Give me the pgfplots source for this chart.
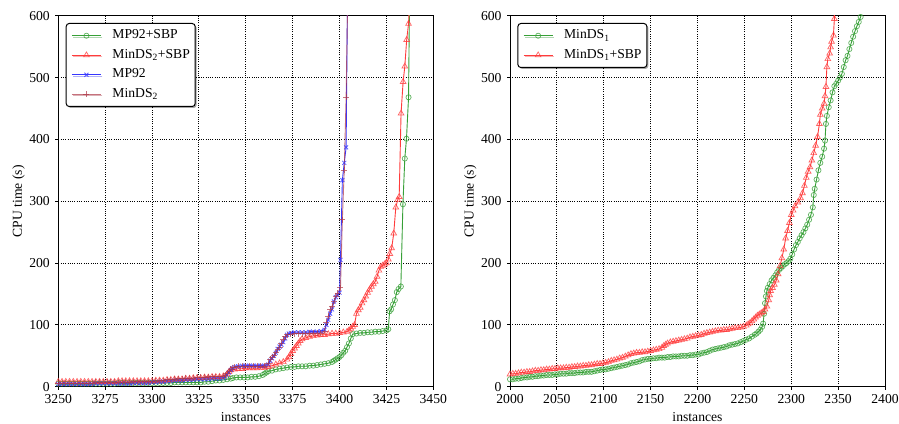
\documentclass[border=0pt]{standalone}
\usepackage{fontspec}
\setmainfont{Liberation Serif}
\usepackage{pgfplots}
\pgfplotsset{compat=1.18}
\usetikzlibrary{shadows}

\definecolor{cgreen}{RGB}{55,160,55}
\definecolor{cred}{RGB}{255,60,60}
\definecolor{cblue}{RGB}{55,55,255}
\definecolor{cbrown}{RGB}{175,55,70}

\newcommand{\fs}{\fontsize{13.7}{16}\selectfont}

\pgfplotsset{
  cpu/.style={
    scale only axis, width=375bp, height=371bp,
    ymin=0, ymax=600, ytick={0,100,...,600},
    grid=major,
    major grid style={black, line width=0.9bp, dash pattern=on 1bp off 1.3bp},
    axis line style={black, line width=1bp},
    tick style={black, line width=0.8bp}, major tick length=3bp, tick align=outside,
    xtick pos=bottom, ytick pos=left,
    /pgf/number format/assume math mode=true,
    /pgf/number format/1000 sep={},
    ticklabel style={font=\fs, inner sep=0pt},
    yticklabel style={xshift=-5.3bp},
    xticklabel style={yshift=-4.6bp},
    xlabel=instances, ylabel={CPU time (s)},
    label style={font=\fs},
    xlabel style={at={(axis description cs:0.5,-0.0938)}, anchor=base},
    ylabel style={at={(axis description cs:-0.0968,0.5)}, anchor=base},
    legend cell align=left,
    legend image code/.code={\draw[mark repeat=2,mark phase=2] plot coordinates {(0bp,0bp)(14.5bp,0bp)(29bp,0bp)};},
    legend style={
      at={(0,1)}, anchor=north west, xshift=7.4bp, yshift=-7.3bp,
      draw=black, line width=1bp, rounded corners=3bp, fill=white,
      drop shadow={shadow xshift=1.5bp, shadow yshift=-1.5bp, fill=black, opacity=0.35},
      inner xsep=5.3bp, inner ysep=5.5bp, row sep=6bp,
      font=\fs,
      nodes={inner sep=0pt, text height=10bp, text depth=3.5bp},
      /tikz/every odd column/.append style={column sep=11bp},
    },
  },
  sg/.style={color=cgreen, line width=0.9bp, mark=o, mark size=2.6bp, mark options={line width=0.7bp, opacity=0.8}},
  sr/.style={color=cred, line width=0.9bp, mark=triangle, mark size=3.3bp, mark options={line width=0.7bp, opacity=0.8}},
  sb/.style={color=cblue, line width=0.9bp, mark=x, mark size=2.8bp, mark options={line width=0.8bp, opacity=0.8}},
  sn/.style={color=cbrown, line width=0.9bp, opacity=0.7, mark=+, mark size=3bp, mark options={line width=0.8bp}},
}

\begin{document}
\begin{tikzpicture}
\useasboundingbox (0,0) rectangle (899bp,424bp);

\begin{axis}[cpu, at={(58.3bp,37.3bp)}, anchor=south west,
  xmin=3250, xmax=3450, xtick={3250,3275,...,3450}]
\addplot[sg] coordinates {(3250,5)(3252,5)(3254,5)(3256,5)(3258,5)(3260,5)(3262,5)(3264,5)(3266,5)(3268,5)(3270,5)(3272,5)(3274,5)(3276,5)(3278,5)(3280,5)(3282,6)(3284,6)(3286,6)(3288,6)(3290,6)(3292,6)(3294,6)(3296,6)(3298,6)(3300,6)(3302,6)(3304,6)(3306,6)(3308,6)(3310,6)(3312,7)(3314,7)(3316,7)(3318,7)(3320,7)(3322,7)(3324,7)(3326,7)(3328,8)(3330,8)(3332,9)(3334,10)(3336,10)(3338,11)(3340,12)(3342,13)(3343,14)(3345,15)(3347,15)(3349,15)(3351,15)(3353,16)(3355,16)(3357,17)(3359,19)(3360,21)(3361,23)(3362,25)(3364,26)(3366,28)(3368,29)(3370,30)(3372,31)(3374,32)(3376,32)(3378,33)(3380,33)(3382,33)(3384,34)(3386,34)(3388,35)(3390,36)(3392,37)(3394,38)(3396,40)(3397,42)(3398,44)(3399,46)(3400,48)(3401,51)(3402,55)(3403,58)(3404,64)(3405,70)(3406,78)(3407,85)(3409,86)(3411,87)(3413,87)(3415,88)(3417,88)(3419,89)(3421,89)(3423,90)(3425,91)(3426,93)(3426.7,122)(3427.5,125)(3428.5,133)(3429.5,140)(3430.5,153)(3431.5,158)(3432.7,162)(3433.8,295)(3434.8,369)(3435.7,401)(3436.8,468)(3437.3,620)};
\addlegendentry{MP92+SBP}
\addplot[sr] coordinates {(3250,8)(3252,8)(3254,8)(3256,8)(3258,8)(3260,8)(3262,8)(3264,8)(3266,8)(3268,8)(3270,8)(3272,8)(3274,8)(3276,8)(3278,8)(3280,8)(3282,9)(3284,9)(3286,9)(3288,9)(3290,9)(3292,9)(3294,9)(3296,9)(3298,9)(3300,9)(3302,10)(3304,10)(3306,10)(3308,11)(3310,11)(3312,12)(3314,12)(3316,12)(3318,13)(3320,13)(3322,14)(3324,14)(3326,14)(3328,15)(3330,15)(3332,16)(3334,16)(3336,16)(3338,17)(3340,20)(3341,24)(3342,27)(3344,28)(3346,29)(3348,29)(3350,30)(3352,30)(3354,30)(3356,30)(3358,31)(3360,31)(3362,32)(3364,34)(3366,36)(3368,38)(3370,40)(3372,44)(3373,48)(3374,53)(3375,58)(3376,62)(3377,66)(3378,70)(3379,74)(3380,77)(3382,79)(3384,81)(3386,82)(3388,83)(3390,84)(3392,84)(3394,85)(3396,86)(3398,86)(3400,87)(3402,88)(3404,89)(3405,91)(3406,94)(3407,97)(3408,100)(3409,118)(3410,124)(3411,128)(3412,135)(3413,140)(3414,146)(3415,152)(3416,157)(3417,162)(3418,166)(3419,170)(3420,178)(3421,188)(3422,194)(3423,196)(3424,198)(3425,200)(3426,206)(3426.8,215)(3427.8,224)(3428.9,248)(3430,290)(3431,302)(3431.8,307)(3432.8,442)(3433.9,493)(3434.8,518)(3435.8,561)(3436.8,587)(3437.3,620)};
\addlegendentry{MinDS\textsubscript{2}+SBP}
\addplot[sb] coordinates {(3250,4)(3252,4)(3254,4)(3256,4)(3258,4)(3260,4)(3262,4)(3264,4)(3266,4)(3268,4)(3270,5)(3272,5)(3274,5)(3276,5)(3278,5)(3280,5)(3282,5)(3284,5)(3286,5)(3288,5)(3290,6)(3292,6)(3294,6)(3296,6)(3298,6)(3300,7)(3302,7)(3304,8)(3306,8)(3308,9)(3310,9)(3312,10)(3314,10)(3316,10)(3318,11)(3320,11)(3322,11)(3324,12)(3326,12)(3328,12)(3330,12)(3332,13)(3334,13)(3336,13)(3338,14)(3339,16)(3340,19)(3341,23)(3342,27)(3343,30)(3344,32)(3346,33)(3348,34)(3350,34)(3352,34)(3354,34)(3356,34)(3358,34)(3360,34)(3362,36)(3363,42)(3364,46)(3365,50)(3366,55)(3367,61)(3368,65)(3369,68)(3370,72)(3371,78)(3372,84)(3373,86)(3374,87)(3376,88)(3378,88)(3380,88)(3382,88)(3384,89)(3386,89)(3388,89)(3390,90)(3392,92)(3393,100)(3394,108)(3395,118)(3396,125)(3397,138)(3398,145)(3399,148)(3400,152)(3400.5,205)(3401.5,334)(3402.5,362)(3403.5,387)(3404.2,620)};
\addlegendentry{MP92}
\addplot[sn] coordinates {(3250,6)(3252,6)(3254,6)(3256,6)(3258,6)(3260,6)(3262,6)(3264,6)(3266,6)(3268,6)(3270,7)(3272,7)(3274,7)(3276,7)(3278,7)(3280,7)(3282,7)(3284,7)(3286,7)(3288,7)(3290,8)(3292,8)(3294,8)(3296,8)(3298,8)(3300,9)(3302,9)(3304,10)(3306,10)(3308,11)(3310,11)(3312,12)(3314,13)(3316,13)(3318,14)(3320,14)(3322,14)(3324,15)(3326,15)(3328,15)(3330,16)(3332,16)(3334,16)(3336,16)(3338,17)(3339,19)(3340,22)(3341,25)(3342,28)(3343,31)(3344,32)(3346,33)(3348,33)(3350,33)(3352,33)(3354,33)(3356,33)(3358,33)(3360,33)(3362,38)(3363,44)(3364,48)(3365,51)(3366,55)(3367,60)(3368,64)(3369,70)(3370,77)(3371,81)(3372,84)(3374,85)(3376,86)(3378,86)(3380,86)(3382,86)(3384,87)(3386,87)(3388,87)(3390,87)(3392,90)(3393,104)(3394,114)(3395,125)(3396,130)(3397,138)(3398,146)(3399,151)(3400.5,160)(3401.5,270)(3402.5,350)(3403.5,468)(3404.3,620)};
\addlegendentry{MinDS\textsubscript{2}}
\end{axis}

\begin{axis}[cpu, at={(510bp,37.3bp)}, anchor=south west,
  xmin=2000, xmax=2400, xtick={2000,2050,...,2400}]
\addplot[sg] coordinates {(2000,12)(2003,12)(2006,13)(2009,13)(2012,14)(2015,15)(2018,15)(2021,16)(2024,16)(2027,17)(2030,17)(2033,18)(2036,18)(2039,19)(2042,19)(2045,19)(2048,20)(2051,20)(2054,21)(2057,21)(2060,21)(2063,22)(2066,22)(2069,22)(2072,23)(2075,23)(2078,23)(2081,24)(2084,24)(2087,24)(2090,25)(2093,26)(2096,27)(2099,28)(2102,28)(2105,29)(2108,30)(2111,31)(2114,32)(2117,33)(2120,34)(2123,35)(2126,36)(2129,38)(2132,39)(2135,40)(2138,41)(2141,43)(2144,44)(2147,45)(2150,45)(2153,46)(2156,46)(2159,47)(2162,47)(2165,47)(2168,48)(2171,48)(2174,49)(2177,49)(2180,49)(2183,50)(2186,50)(2189,50)(2192,51)(2195,51)(2198,52)(2201,52)(2204,54)(2207,55)(2210,56)(2213,58)(2216,60)(2219,61)(2222,62)(2225,63)(2228,64)(2231,65)(2234,67)(2237,68)(2240,69)(2243,70)(2246,72)(2249,74)(2252,76)(2255,78)(2258,81)(2261,84)(2263,86)(2265,89)(2267,92)(2269,97)(2270,102)(2271,118)(2272,135)(2273,146)(2274,155)(2275,160)(2277,166)(2279,172)(2281,176)(2283,180)(2285,185)(2287,189)(2289,192)(2291,195)(2293,198)(2295,200)(2297,203)(2299,207)(2301,214)(2303,222)(2305,229)(2307,234)(2309,240)(2311,245)(2313,250)(2315,256)(2317,262)(2319,270)(2321,278)(2323,290)(2324,310)(2325,320)(2327,335)(2329,350)(2331,362)(2333,372)(2335,385)(2336,398)(2337,425)(2338,438)(2340,452)(2342,463)(2344,476)(2346,486)(2348,490)(2350,495)(2352,500)(2354,506)(2356,517)(2358,528)(2360,535)(2362,546)(2364,556)(2366,566)(2368,575)(2370,583)(2372,590)(2374,598)(2376,606)};
\addlegendentry{MinDS\textsubscript{1}}
\addplot[sr] coordinates {(2000,20)(2003,21)(2006,21)(2009,22)(2012,23)(2015,23)(2018,24)(2021,24)(2024,25)(2027,26)(2030,26)(2033,27)(2036,27)(2039,28)(2042,28)(2045,29)(2048,29)(2051,30)(2054,30)(2057,30)(2060,31)(2063,31)(2066,32)(2069,32)(2072,33)(2075,33)(2078,34)(2081,34)(2084,35)(2087,35)(2090,36)(2093,37)(2096,37)(2099,38)(2102,39)(2105,40)(2108,42)(2111,43)(2114,44)(2117,46)(2120,47)(2123,49)(2126,51)(2129,53)(2132,54)(2135,55)(2138,55)(2141,56)(2144,56)(2147,57)(2150,58)(2153,59)(2156,60)(2159,61)(2162,63)(2164,66)(2166,68)(2168,70)(2171,72)(2174,73)(2177,74)(2180,75)(2183,76)(2186,77)(2189,78)(2192,80)(2195,81)(2198,82)(2201,83)(2204,84)(2207,86)(2210,87)(2213,88)(2216,89)(2219,90)(2222,91)(2225,91)(2228,92)(2231,92)(2234,93)(2237,94)(2240,95)(2243,95)(2246,96)(2249,97)(2252,99)(2254,101)(2256,103)(2258,106)(2260,109)(2262,112)(2264,115)(2266,117)(2268,119)(2270,121)(2272,125)(2274,130)(2276,140)(2277,148)(2278,155)(2280,160)(2282,165)(2284,172)(2286,182)(2288,195)(2290,208)(2292,222)(2294,240)(2296,252)(2298,265)(2300,278)(2302,285)(2304,292)(2307,298)(2310,305)(2312,313)(2314,325)(2316,338)(2318,348)(2320,355)(2322,366)(2324,378)(2326,390)(2328,404)(2330,425)(2331,440)(2333,450)(2335,458)(2336,470)(2337,485)(2338,517)(2339,530)(2341,539)(2342,549)(2343,558)(2345,568)(2346,595)(2346.3,620)};
\addlegendentry{MinDS\textsubscript{1}+SBP}
\end{axis}
\end{tikzpicture}
\end{document}
